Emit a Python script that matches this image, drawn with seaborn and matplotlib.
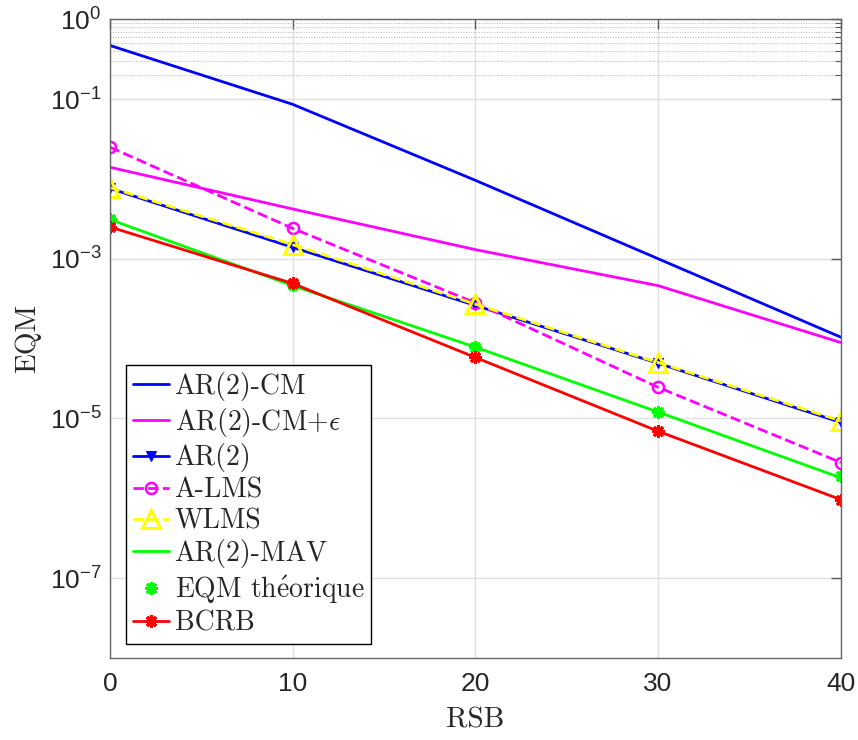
import matplotlib
matplotlib.use('Agg')
import matplotlib.pyplot as plt
import seaborn as sns
from matplotlib.ticker import FixedLocator, FixedFormatter, NullFormatter
from matplotlib.font_manager import FontProperties

snr = [0, 10, 20, 30, 40]
ar2_cm = [0.47, 0.086, 0.0096, 1.0e-3, 1.04e-4]
ar2_cm_eps = [0.014, 0.0042, 0.0013, 4.6e-4, 8.9e-5]
ar2 = [7.6e-3, 1.39e-3, 2.6e-4, 4.9e-5, 8.9e-6]
a_lms = [0.025, 2.4e-3, 2.8e-4, 2.45e-5, 2.8e-6]
wlms = [7.8e-3, 1.5e-3, 2.7e-4, 5.0e-5, 9.3e-6]
ar2_mav = [3.1e-3, 4.6e-4, 7.8e-5, 1.2e-5, 1.8e-6]
eqm_theo = [3.1e-3, 4.7e-4, 7.9e-5, 1.2e-5, 1.9e-6]
bcrb = [2.5e-3, 4.9e-4, 5.8e-5, 6.9e-6, 9.6e-7]

ytick_vals = [1e0, 1e-1, 1e-3, 1e-5, 1e-7]
ytick_labels = [r'$10^{0}$', r'$10^{-1}$', r'$10^{-3}$', r'$10^{-5}$', r'$10^{-7}$']
xtick_vals = [0, 10, 20, 30, 40]

sns.set_theme(style='white')
plt.rcParams['font.family'] = ['Liberation Sans', 'DejaVu Sans']
plt.rcParams['mathtext.fontset'] = 'custom'
plt.rcParams['mathtext.rm'] = 'Liberation Sans'
plt.rcParams['mathtext.it'] = 'Liberation Sans:italic'
plt.rcParams['mathtext.bf'] = 'Liberation Sans:bold'

fig = plt.figure(figsize=(8.58, 7.40), dpi=100)
ax = fig.add_axes([0.128, 0.111, 0.852, 0.863])

lw = 2.0
star = (8, 2, 0)
sns.lineplot(x=snr, y=ar2_cm, ax=ax, color=(0, 0, 1), lw=lw, label='AR(2)-CM')
sns.lineplot(x=snr, y=ar2_cm_eps, ax=ax, color=(1, 0, 1), lw=lw, label=r'AR(2)-CM+$\epsilon$')
sns.lineplot(x=snr, y=ar2, ax=ax, color=(0, 0, 1), lw=lw, marker='v', ms=7.5,
             mec=(0, 0, 1), mfc=(0, 0, 1), label='AR(2)')
sns.lineplot(x=snr, y=a_lms, ax=ax, color=(1, 0, 1), lw=lw, ls='--', marker='o', ms=8,
             mec=(1, 0, 1), mfc='none', mew=1.8, label='A-LMS')
sns.lineplot(x=snr, y=wlms, ax=ax, color=(1, 1, 0), lw=lw, ls='--', marker='^', ms=13,
             mec=(1, 1, 0), mfc='none', mew=2.2, label='WLMS')
sns.lineplot(x=snr, y=ar2_mav, ax=ax, color=(0, 1, 0), lw=lw, label='AR(2)-MAV')
sns.lineplot(x=snr, y=eqm_theo, ax=ax, color=(0, 1, 0), ls='none', marker=star, ms=9,
             mec=(0, 1, 0), mew=2.2, label=r'EQM th$\acute{\mathrm{e}}$orique')
sns.lineplot(x=snr, y=bcrb, ax=ax, color=(1, 0, 0), lw=lw, marker=star, ms=9,
             mec=(1, 0, 0), mew=2.2, label='BCRB')

ax.set_yscale('log')
ax.set_xlim(0, 40)
ax.set_ylim(1e-8, 1)
ax.xaxis.set_major_locator(FixedLocator(xtick_vals))
ax.yaxis.set_major_locator(FixedLocator(ytick_vals))
ax.yaxis.set_major_formatter(FixedFormatter(ytick_labels))
ax.yaxis.set_minor_locator(FixedLocator([k / 10 for k in range(2, 10)]))
ax.yaxis.set_minor_formatter(NullFormatter())

ax.grid(True, which='major', color=(0.88, 0.88, 0.88), lw=1.0)
ax.grid(True, which='minor', axis='y', color=(0.7, 0.7, 0.7), lw=0.7, ls=':')
ax.set_axisbelow(True)

ax.tick_params(which='both', direction='in', top=True, right=True,
               color=(0.35, 0.35, 0.35), labelcolor=(0.15, 0.15, 0.15))
ax.tick_params(which='major', length=7, width=1, labelsize=19)
ax.tick_params(axis='x', which='major', pad=10)
ax.tick_params(axis='y', which='major', pad=6)
ax.tick_params(which='minor', length=4, width=0.8)
for s in ax.spines.values():
    s.set_color((0.4, 0.4, 0.4))
    s.set_linewidth(1.0)

serif = FontProperties(family=['cmr10', 'DejaVu Serif'], size=21, math_fontfamily='cm')
leg_font = FontProperties(family=['cmr10', 'DejaVu Serif'], size=20, math_fontfamily='cm')
ax.set_xlabel('RSB', fontproperties=serif, labelpad=8)
ax.set_ylabel('EQM', fontproperties=serif, labelpad=6)

leg = ax.legend(loc='lower left', bbox_to_anchor=(0.022, 0.022), borderaxespad=0,
                prop=leg_font, frameon=True, fancybox=False, framealpha=1,
                edgecolor='black', handlelength=1.3, handletextpad=0.2,
                labelspacing=0.17, borderpad=0.25)
leg.get_frame().set_linewidth(1.0)

fig.savefig('out.png', dpi=100)
